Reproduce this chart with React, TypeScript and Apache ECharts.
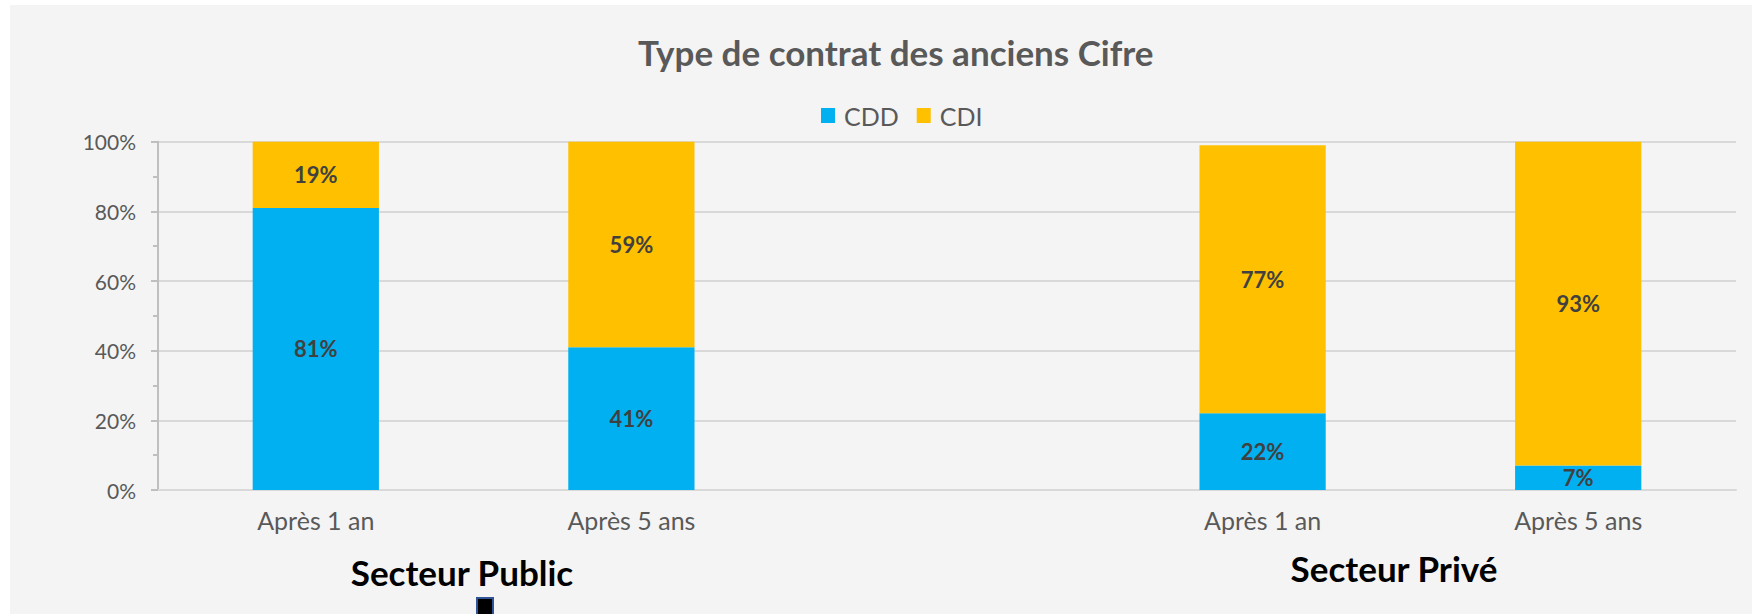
import React, { useEffect, useRef } from "react";
import * as echarts from "echarts";

const categories = ["Après 1 an", "Après 5 ans", "", "Après 1 an", "Après 5 ans"];
const cddValues: (number | null)[] = [81, 41, null, 22, 7];
const cdiValues: (number | null)[] = [19, 59, null, 77, 93];
const yTicks = [0, 20, 40, 60, 80, 100];
const seriesNames = ["CDD", "CDI"];
const titleText = "Type de contrat des anciens Cifre";
const sectorLabels = ["Secteur Public", "Secteur Privé"];

const FONT = "Lato, 'Noto Sans', sans-serif";

export default function App() {
  const ref = useRef<HTMLDivElement>(null);
  useEffect(() => {
    if (!ref.current) return;
    const chart = echarts.init(ref.current, undefined, { renderer: "svg" });
    const labelStyle = {
      show: true,
      position: "inside" as const,
      formatter: (p: any) => (p.value == null ? "" : `${p.value}%`),
      color: "#404040",
      fontWeight: "bold" as const,
      fontSize: 22,
      fontFamily: FONT,
    };
    chart.setOption({
      animation: false,
      backgroundColor: "#f4f4f4",
      textStyle: { fontFamily: FONT },
      title: {
        text: titleText,
        left: 623,
        top: 24,
        textStyle: { color: "#595959", fontSize: 35, fontWeight: "bold", fontFamily: FONT },
      },
      legend: {
        data: seriesNames,
        left: 806,
        top: 93,
        itemWidth: 14,
        itemHeight: 15,
        itemGap: 18,
        icon: "rect",
        textStyle: { color: "#595959", fontSize: 25, fontFamily: FONT, padding: [0, 0, 0, 4] },
      },
      grid: { left: 148, right: 16, top: 136.7, bottom: 124, containLabel: false },
      xAxis: {
        type: "category",
        data: categories,
        axisTick: { show: false },
        axisLine: { show: true, lineStyle: { color: "#d9d9d9", width: 2 } },
        axisLabel: { color: "#595959", fontSize: 25, fontFamily: FONT, margin: 17, interval: 0 },
      },
      yAxis: {
        type: "value",
        min: yTicks[0],
        max: yTicks[yTicks.length - 1],
        interval: 20,
        axisLine: { show: true, lineStyle: { color: "#bfbfbf", width: 2 } },
        axisTick: { show: true, length: 7, lineStyle: { color: "#bfbfbf", width: 2 } },
        minorTick: { show: true, splitNumber: 2, length: 5, lineStyle: { color: "#bfbfbf", width: 2 } },
        splitLine: { show: true, lineStyle: { color: "#d9d9d9", width: 2 } },
        axisLabel: {
          color: "#595959",
          fontSize: 21,
          fontFamily: FONT,
          margin: 22,
          formatter: "{value}%",
        },
      },
      series: [
        {
          name: seriesNames[0],
          type: "bar",
          stack: "total",
          barWidth: "40%",
          data: cddValues,
          itemStyle: { color: "#00b0f0" },
          label: labelStyle,
        },
        {
          name: seriesNames[1],
          type: "bar",
          stack: "total",
          barWidth: "40%",
          data: cdiValues,
          itemStyle: { color: "#ffc000" },
          label: labelStyle,
        },
      ],
      graphic: [
        {
          type: "text",
          x: 452,
          y: 567,
          style: {
            text: sectorLabels[0],
            fill: "#000000",
            fontSize: 35,
            fontWeight: "bold",
            fontFamily: FONT,
            align: "center",
            verticalAlign: "middle",
          },
        },
        {
          type: "text",
          x: 1384,
          y: 563,
          style: {
            text: sectorLabels[1],
            fill: "#000000",
            fontSize: 35,
            fontWeight: "bold",
            fontFamily: FONT,
            align: "center",
            verticalAlign: "middle",
          },
        },
        {
          type: "rect",
          shape: { x: 467, y: 593, width: 16, height: 20 },
          style: { fill: "#000000", stroke: "#2f5597", lineWidth: 2 },
        },
      ],
    });
    return () => chart.dispose();
  }, []);
  return (
    <div style={{ position: "absolute", left: 0, top: 0, width: 1752, height: 614, background: "#ffffff", overflow: "hidden" }}>
      <div ref={ref} style={{ position: "absolute", left: 10, top: 5, width: 1742, height: 609 }} />
    </div>
  );
}
